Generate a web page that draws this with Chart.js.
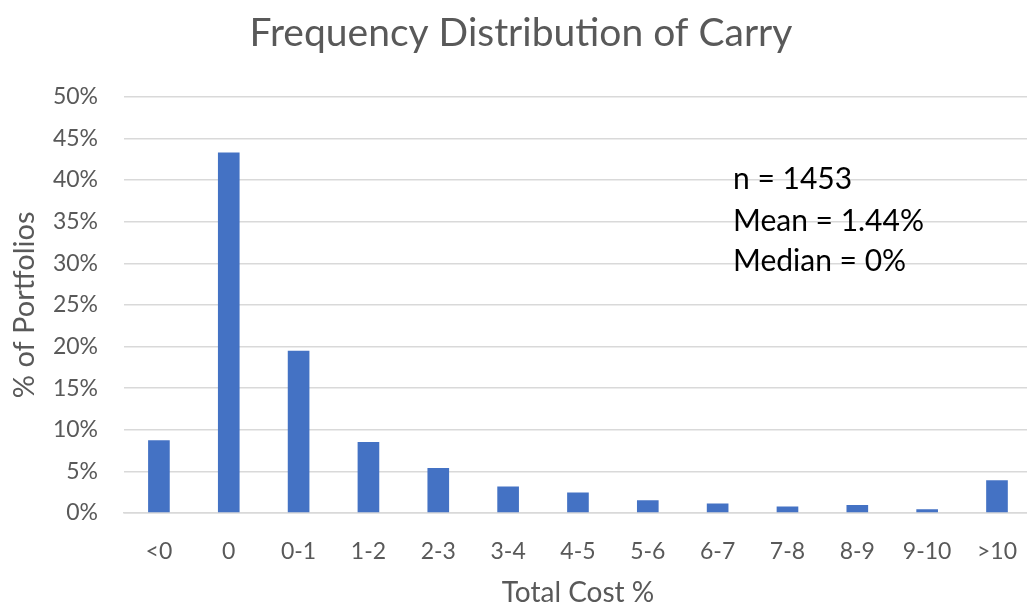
<!DOCTYPE html>
<html>
<head>
<meta charset="utf-8">
<script src="https://cdn.jsdelivr.net/npm/chart.js@4"></script>
<style>
    html, body { margin: 0; padding: 0; background: #fff; overflow: hidden; }
    #wrap { position: relative; width: 1042px; height: 620px; }
</style>
</head>
<body>
<div id="wrap"><canvas id="chart"></canvas></div>
<script>
// Data
const categories = ['<0', '0', '0-1', '1-2', '2-3', '3-4', '4-5', '5-6', '6-7', '7-8', '8-9', '9-10', '>10'];
const shareOfPortfolios = [8.74, 43.3, 19.5, 8.53, 5.4, 3.17, 2.45, 1.53, 1.13, 0.77, 0.96, 0.44, 3.93];
const statsLines = ['n = 1453', 'Mean = 1.44%', 'Median = 0%'];

const FONT = 'Lato, "Open Sans", sans-serif';
const GREY = '#595959';

// Summary text box in the upper right of the plot
const statsPlugin = {
    id: 'stats',
    afterDraw(chart) {
        const ctx = chart.ctx;
        ctx.save();
        ctx.font = '30px ' + FONT;
        ctx.fillStyle = '#000000';
        ctx.textAlign = 'left';
        ctx.textBaseline = 'alphabetic';
        const baselines = [189, 231, 271];
        statsLines.forEach((line, i) => ctx.fillText(line, 733, baselines[i]));
        ctx.restore();
    }
};

new Chart(document.getElementById('chart'), {
    type: 'bar',
    data: {
        labels: categories,
        datasets: [{
            label: '% of Portfolios',
            data: shareOfPortfolios,
            backgroundColor: '#4472C4',
            categoryPercentage: 1,
            barPercentage: 0.31
        }]
    },
    options: {
        responsive: true,
        maintainAspectRatio: false,
        animation: false,
        layout: { padding: 0 },
        plugins: {
            legend: { display: false },
            tooltip: { enabled: false },
            title: {
                display: true,
                text: 'Frequency Distribution of Carry',
                color: GREY,
                font: { family: FONT, size: 39, weight: 'normal' },
                padding: { top: 10, bottom: 40 }
            }
        },
        scales: {
            x: {
                grid: { display: false, drawTicks: false },
                border: { color: '#d9d9d9', width: 1.5 },
                ticks: {
                    color: GREY,
                    font: { family: FONT, size: 23 },
                    padding: 25,
                    maxRotation: 0,
                    autoSkip: false
                },
                title: {
                    display: true,
                    text: 'Total Cost %',
                    color: GREY,
                    font: { family: FONT, size: 28 },
                    padding: { top: 0, bottom: 10 }
                },
                afterFit: (scale) => { scale.height = 107; }
            },
            y: {
                min: 0,
                max: 50,
                grid: { color: '#d9d9d9', lineWidth: 1.5, drawTicks: false },
                border: { display: false },
                ticks: {
                    stepSize: 5,
                    color: GREY,
                    font: { family: FONT, size: 23 },
                    padding: 26,
                    callback: (v) => v + '%'
                },
                title: {
                    display: true,
                    text: '% of Portfolios',
                    color: GREY,
                    font: { family: FONT, size: 29 },
                    padding: { top: 7, bottom: 0 }
                },
                afterFit: (scale) => { scale.width = 124; }
            }
        }
    },
    plugins: [statsPlugin]
});
</script>
</body>
</html>
